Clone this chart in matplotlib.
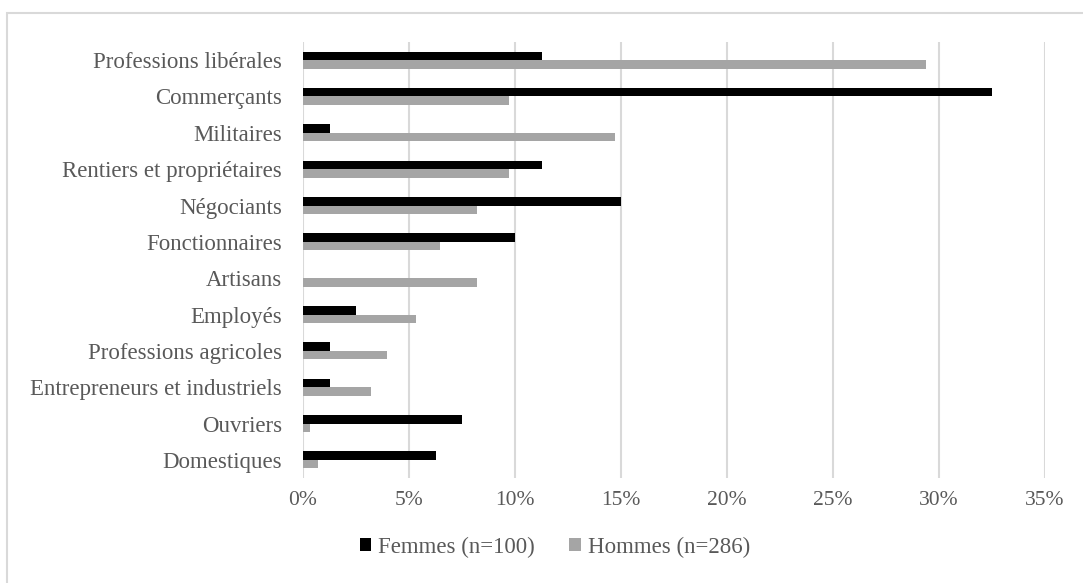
import matplotlib.pyplot as plt
import numpy as np
from matplotlib.patches import Rectangle
from matplotlib.ticker import FuncFormatter

categories = [
    "Professions libérales", "Commerçants", "Militaires", "Rentiers et propriétaires",
    "Négociants", "Fonctionnaires", "Artisans", "Employés", "Professions agricoles",
    "Entrepreneurs et industriels", "Ouvriers", "Domestiques",
]
femmes = [11.25, 32.5, 1.25, 11.25, 15.0, 10.0, 0.0, 2.5, 1.25, 1.25, 7.5, 6.25]
hommes = [29.4, 9.7, 14.7, 9.7, 8.2, 6.45, 8.2, 5.35, 3.95, 3.2, 0.35, 0.7]
ticks = [0, 5, 10, 15, 20, 25, 30, 35]

text_col = "#595959"
plt.rcParams['font.family'] = ['Liberation Serif', 'DejaVu Serif']

fig = plt.figure(figsize=(10.83, 5.83), dpi=100)
# chart border, cut off on the right and bottom as in the original export
fig.patches.append(Rectangle((0.0065, -0.05), 1.1, 1.0277, transform=fig.transFigure,
                             fill=False, edgecolor="#d9d9d9", linewidth=1.5))
ax = fig.add_axes([0.2798, 0.180, 0.6851, 0.748])

y = np.arange(len(categories))
h = 0.235
ax.barh(y - h / 2, femmes, height=h, color="black", label="Femmes (n=100)", zorder=3)
ax.barh(y + h / 2, hommes, height=h, color="#a5a5a5", label="Hommes (n=286)", zorder=3)

ax.set_ylim(len(categories) - 0.5, -0.5)
ax.set_xlim(0, 35)
ax.set_xticks(ticks)
ax.xaxis.set_major_formatter(FuncFormatter(lambda v, p: f"{v:.0f}%"))
ax.set_yticks(y)
ax.set_yticklabels(categories)
ax.grid(axis='x', color="#d9d9d9", linewidth=1.5, zorder=0)
for s in ax.spines.values():
    s.set_visible(False)
ax.tick_params(axis='both', length=0, colors=text_col)
ax.tick_params(axis='x', pad=9.5, labelsize=15.5)
ax.tick_params(axis='y', pad=15, labelsize=16.5)

fig.legend(loc='center', bbox_to_anchor=(555 / 1083, 1 - 547 / 583), ncol=2, frameon=False,
           handlelength=0.5, handleheight=0.5, handletextpad=0.3, columnspacing=1.5,
           labelcolor=text_col, fontsize=16.5)

fig.savefig("out.png", dpi=100)
